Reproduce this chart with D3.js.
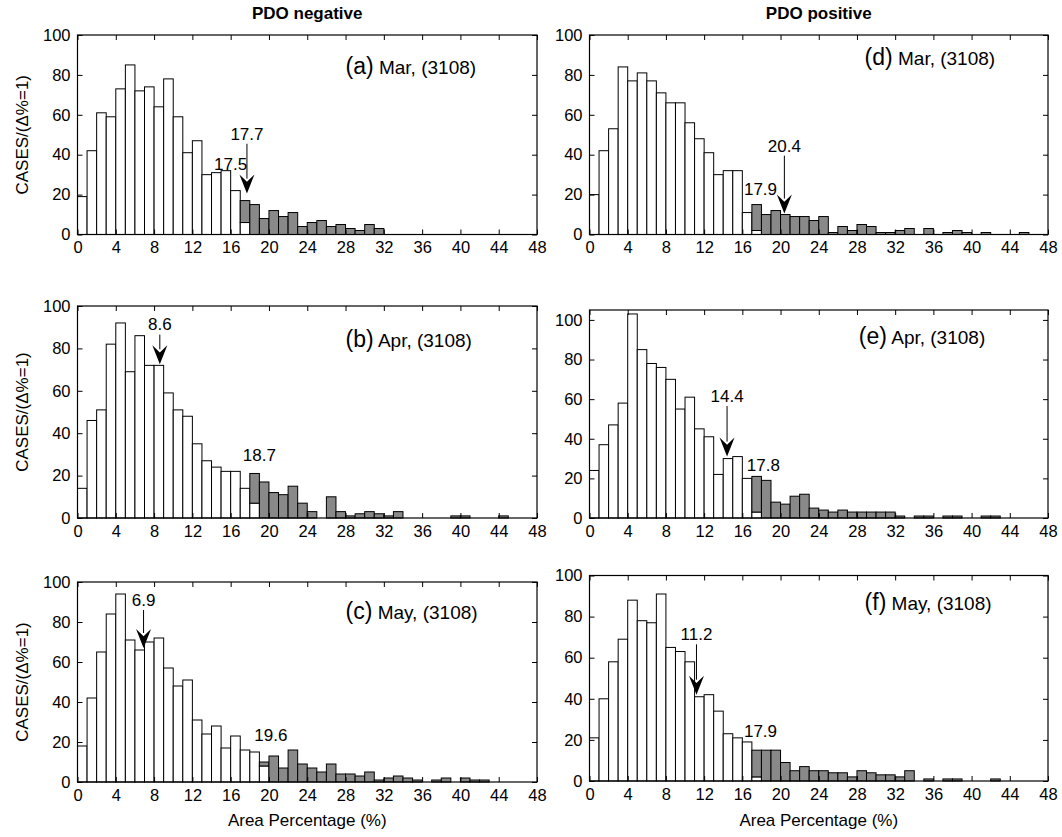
<!DOCTYPE html>
<html>
<head>
<meta charset="utf-8">
<script src="https://cdn.jsdelivr.net/npm/d3@7"></script>
<style>
  body { margin: 0; background: #fff; }
  svg { display: block; }
  text { font-family: "Liberation Sans", Arial, Helvetica, sans-serif; fill: #000; }
</style>
</head>
<body>
<svg id="chart" width="1062" height="837"></svg>
<script>
// Histogram bins: 1% wide, 0–48 % area
const binEdges = [0,1,2,3,4,5,6,7,8,9,10,11,12,13,14,15,16,17,18,19,20,21,22,23,24,
                  25,26,27,28,29,30,31,32,33,34,35,36,37,38,39,40,41,42,43,44,45,46,47];
const xTickValues = [0,4,8,12,16,20,24,28,32,36,40,44,48];
const yTickValues = [0,20,40,60,80,100];

// Counts below the threshold (white) and above it (grey), per bin
const marNegBelow = [19,42,61,59,73,85,72,74,64,78,59,41,47,30,31,32,22,6,0,0,0,0,0,0,0,0,0,0,0,0,0,0,0,0,0,0,0,0,0,0,0,0,0,0,0,0,0,0];
const marNegAbove = [0,0,0,0,0,0,0,0,0,0,0,0,0,0,0,0,0,11,15,8,12,9,11,4,6,7,4,5,3,2,5,3,0,0,0,0,0,0,0,0,0,0,0,0,0,0,0,0];

const aprNegBelow = [14,46,51,82,92,69,86,72,72,59,51,48,35,27,24,22,22,14,7,0,0,0,0,0,0,0,0,0,0,0,0,0,0,0,0,0,0,0,0,0,0,0,0,0,0,0,0,0];
const aprNegAbove = [0,0,0,0,0,0,0,0,0,0,0,0,0,0,0,0,0,0,14,17,12,11,15,7,3,0,10,3,1,2,3,2,1,3,0,0,0,0,0,1,1,0,0,0,1,0,0,0];

const mayNegBelow = [18,42,65,84,94,71,66,70,72,57,48,51,31,24,28,17,23,16,15,8,0,0,0,0,0,0,0,0,0,0,0,0,0,0,0,0,0,0,0,0,0,0,0,0,0,0,0,0];
const mayNegAbove = [0,0,0,0,0,0,0,0,0,0,0,0,0,0,0,0,0,0,0,2,13,7,16,9,7,5,9,4,4,3,5,1,2,3,2,1,0,1,2,0,2,1,1,0,0,0,0,0];

const marPosBelow = [20,42,53,84,77,81,77,71,66,66,56,48,41,30,32,32,11,2,0,0,0,0,0,0,0,0,0,0,0,0,0,0,0,0,0,0,0,0,0,0,0,0,0,0,0,0,0,0];
const marPosAbove = [0,0,0,0,0,0,0,0,0,0,0,0,0,0,0,0,0,13,10,12,10,9,9,7,9,1,4,2,5,4,1,1,2,3,0,3,0,1,2,1,0,1,0,0,0,1,0,0];

const aprPosBelow = [24,37,47,58,103,85,78,76,70,55,61,45,41,22,30,31,20,3,0,0,0,0,0,0,0,0,0,0,0,0,0,0,0,0,0,0,0,0,0,0,0,0,0,0,0,0,0,0];
const aprPosAbove = [0,0,0,0,0,0,0,0,0,0,0,0,0,0,0,0,0,18,19,8,7,11,12,5,4,3,4,3,3,3,3,3,1,0,1,1,0,1,1,0,0,1,1,0,0,0,0,0];

const mayPosBelow = [21,40,58,69,88,78,77,91,65,63,58,41,42,34,23,21,19,2,0,0,0,0,0,0,0,0,0,0,0,0,0,0,0,0,0,0,0,0,0,0,0,0,0,0,0,0,0,0];
const mayPosAbove = [0,0,0,0,0,0,0,0,0,0,0,0,0,0,0,0,0,13,15,15,9,5,7,5,5,4,4,2,5,4,3,3,2,5,0,1,0,1,1,0,0,0,1,0,0,0,0,0];

// Panel captions and marked values
const panelLetters = ["a", "b", "c", "d", "e", "f"];
const panelMonths  = ["Mar", "Apr", "May", "Mar", "Apr", "May"];
const sampleSizes  = [3108, 3108, 3108, 3108, 3108, 3108];
const arrowValues  = [17.7, 8.6, 6.9, 20.4, 14.4, 11.2];
const thresholdValues = [17.5, 18.7, 19.6, 17.9, 17.8, 17.9];
const columnTitles = ["PDO negative", "PDO positive"];

const belowSeries = [marNegBelow, aprNegBelow, mayNegBelow, marPosBelow, aprPosBelow, mayPosBelow];
const aboveSeries = [marNegAbove, aprNegAbove, mayNegAbove, marPosAbove, aprPosAbove, mayPosAbove];

// ---- layout ----
const columns = [{ left: 77.5, right: 537 }, { left: 589.5, right: 1048 }];
const frames = [
  { col: 0, top: 35,    bottom: 234.5, ymax: 100 },
  { col: 0, top: 306,   bottom: 518,   ymax: 100 },
  { col: 0, top: 582,   bottom: 782,   ymax: 100 },
  { col: 1, top: 35,    bottom: 234.5, ymax: 100 },
  { col: 1, top: 310,   bottom: 518,   ymax: 105 },
  { col: 1, top: 575.5, bottom: 781,   ymax: 100 }
];
// annotation placement in data units: arrow tip / tail / text height, threshold text x / y
const notes = [
  { tip: 20.5, tail: 45.5, text: 50.5, thrX: 16.0, thrY: 35.5 },
  { tip: 72.5, tail: 86.5, text: 91.5, thrX: 19.0, thrY: 30.0 },
  { tip: 67.0, tail: 86.0, text: 91.0, thrX: 20.2, thrY: 23.5 },
  { tip: 10.5, tail: 39.5, text: 44.5, thrX: 17.9, thrY: 23.0 },
  { tip: 31.0, tail: 56.5, text: 61.5, thrX: 18.2, thrY: 26.7 },
  { tip: 42.0, tail: 66.5, text: 71.5, thrX: 17.9, thrY: 24.3 }
];
const captionPos = [
  { x: 28.0, dy: 38.5 }, { x: 28.0, dy: 40.5 }, { x: 28.0, dy: 36.5 },
  { x: 28.8, dy: 30.0 }, { x: 28.2, dy: 33.5 }, { x: 28.8, dy: 34.5 }
];

const greyFill = "#898989";
const tickFont = 16.5;
const svg = d3.select("#chart");

panelLetters.forEach((letter, p) => {
  const f = frames[p];
  const c = columns[f.col];
  const x = d3.scaleLinear().domain([0, 48]).range([c.left, c.right]);
  const y = d3.scaleLinear().domain([0, f.ymax]).range([f.bottom, f.top]);
  const g = svg.append("g");

  const rows = binEdges.map((b, i) => ({ b, lo: belowSeries[p][i], hi: aboveSeries[p][i] }));

  // white part (below threshold)
  g.selectAll("rect.lo").data(rows.filter(d => d.lo > 0)).join("rect")
    .attr("class", "lo")
    .attr("x", d => x(d.b)).attr("width", d => x(d.b + 1) - x(d.b))
    .attr("y", d => y(d.lo)).attr("height", d => y(0) - y(d.lo))
    .attr("fill", "#fff").attr("stroke", "#000").attr("stroke-width", 1);

  // grey part (above threshold), stacked on the white part
  g.selectAll("rect.hi").data(rows.filter(d => d.hi > 0)).join("rect")
    .attr("class", "hi")
    .attr("x", d => x(d.b)).attr("width", d => x(d.b + 1) - x(d.b))
    .attr("y", d => y(d.lo + d.hi)).attr("height", d => y(d.lo) - y(d.lo + d.hi))
    .attr("fill", greyFill).attr("stroke", "#000").attr("stroke-width", 1);

  // axes: ticks point inward on all four sides
  const styleAxis = sel => {
    sel.selectAll("path.domain").remove();
    sel.selectAll("line").attr("stroke", "#000");
    sel.selectAll("text").style("font-size", tickFont + "px");
  };
  g.append("g").attr("transform", `translate(0,${f.bottom})`)
    .call(d3.axisBottom(x).tickValues(xTickValues).tickSize(-5).tickPadding(7).tickFormat(d3.format("d")))
    .call(styleAxis);
  g.append("g").attr("transform", `translate(0,${f.top})`)
    .call(d3.axisTop(x).tickValues(xTickValues).tickSize(-5).tickFormat(""))
    .call(styleAxis);
  g.append("g").attr("transform", `translate(${c.left},0)`)
    .call(d3.axisLeft(y).tickValues(yTickValues).tickSize(-5).tickPadding(7).tickFormat(d3.format("d")))
    .call(styleAxis);
  g.append("g").attr("transform", `translate(${c.right},0)`)
    .call(d3.axisRight(y).tickValues(yTickValues).tickSize(-5).tickFormat(""))
    .call(styleAxis);
  g.selectAll(".tick text").attr("font-family", null);

  // frame
  g.append("rect")
    .attr("x", c.left).attr("y", f.top)
    .attr("width", c.right - c.left).attr("height", f.bottom - f.top)
    .attr("fill", "none").attr("stroke", "#000").attr("stroke-width", 1.2);

  // caption, e.g. "(a) Mar, (3108)"
  const cp = captionPos[p];
  const cap = g.append("text")
    .attr("x", x(cp.x)).attr("y", f.top + cp.dy);
  cap.append("tspan").style("font-size", "23px").text(`(${letter})`);
  cap.append("tspan").style("font-size", "19px").text(` ${panelMonths[p]}, (${sampleSizes[p]})`);

  // arrow marking the observed value
  const n = notes[p];
  const ax = x(arrowValues[p]);
  const tipY = y(n.tip);
  const headLen = 19, headW = 15;
  g.append("line")
    .attr("x1", ax).attr("x2", ax)
    .attr("y1", y(n.tail)).attr("y2", tipY - headLen + 4)
    .attr("stroke", "#000").attr("stroke-width", 1);
  g.append("path")
    .attr("d", `M${ax},${tipY} L${ax - headW / 2},${tipY - headLen} L${ax},${tipY - headLen * 0.62} L${ax + headW / 2},${tipY - headLen} Z`)
    .attr("fill", "#000");
  g.append("text")
    .attr("x", ax).attr("y", y(n.text)).attr("dy", "0.36em")
    .attr("text-anchor", "middle").style("font-size", "17px")
    .text(arrowValues[p].toFixed(1));

  // threshold value
  g.append("text")
    .attr("x", x(n.thrX)).attr("y", y(n.thrY)).attr("dy", "0.36em")
    .attr("text-anchor", "middle").style("font-size", "17px")
    .text(thresholdValues[p].toFixed(1));
});

// column titles
columnTitles.forEach((t, i) => {
  const c = columns[i];
  svg.append("text")
    .attr("x", (c.left + c.right) / 2).attr("y", 19)
    .attr("text-anchor", "middle").style("font-size", "17px").style("font-weight", "bold")
    .text(t);
});

// y-axis titles, one per row
[0, 1, 2].forEach(r => {
  const f = frames[r];
  const cy = (f.top + f.bottom) / 2;
  svg.append("text")
    .attr("transform", `translate(22,${cy}) rotate(-90)`)
    .attr("text-anchor", "middle").attr("dy", "0.36em").style("font-size", "17px")
    .text("CASES/(Δ%=1)");
});

// x-axis titles under the bottom row
[2, 5].forEach(p => {
  const c = columns[frames[p].col];
  svg.append("text")
    .attr("x", (c.left + c.right) / 2).attr("y", 826)
    .attr("text-anchor", "middle").style("font-size", "17px")
    .text("Area Percentage (%)");
});
</script>
</body>
</html>
